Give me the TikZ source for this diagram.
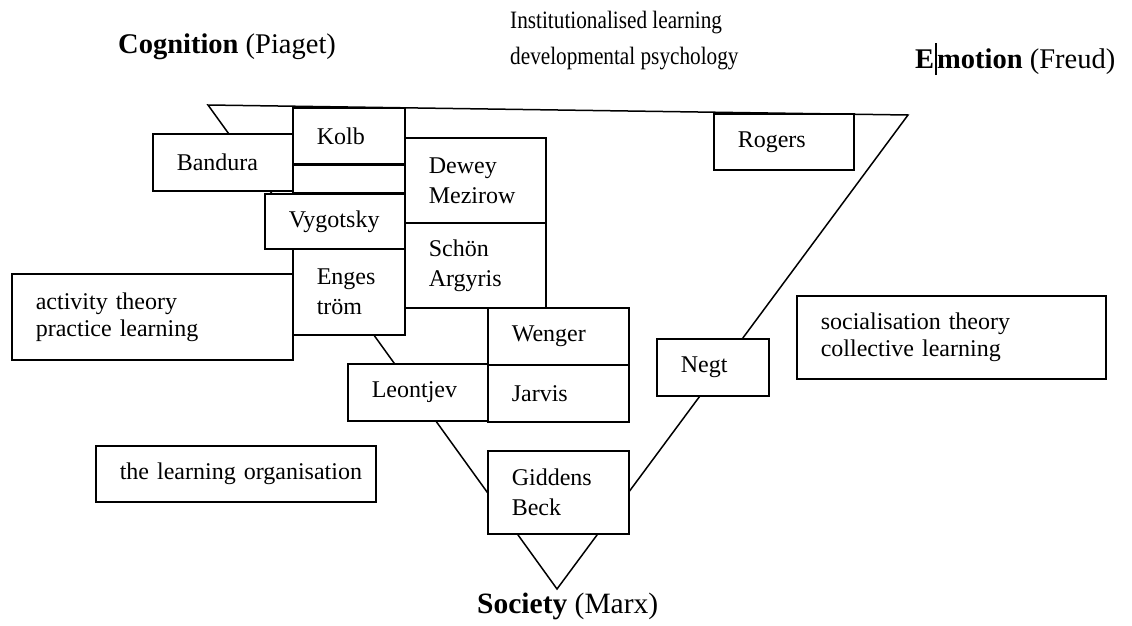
\documentclass[tikz,border=0pt]{standalone}
\usepackage{fontspec}
\setmainfont{Liberation Serif}
\newfontfamily\condfont[FakeStretch=0.85]{Liberation Serif}
\newcommand\myboxfont{\fontsize{24}{30}\selectfont\spaceskip=0.2em\relax}
\newcommand\myboxfonttight{\fontsize{24}{27}\selectfont\spaceskip=0.2em\relax}
\begin{document}
\begin{tikzpicture}[x=1pt,y=-1pt,
  box/.style={draw, fill=white, line width=1.6pt, anchor=north west, align=left,
    inner xsep=24pt, inner ysep=0pt, font=\myboxfont},
  edge/.style={line width=1.5pt},
  heading/.style={anchor=base west, inner sep=0pt, font=\fontsize{28.5}{32}\selectfont},
  sub/.style={anchor=base west, inner sep=0pt, font=\condfont\fontsize{25}{28}\selectfont}]
\fill[white] (0,0) rectangle (1132,626);
\useasboundingbox (0,0) rectangle (1132,626);
% triangle
\coordinate (tl) at (208,105);
\coordinate (tr) at (908,115);
\coordinate (ap) at (557,589);
\draw[edge] (tl) -- (tr) -- (ap) -- cycle;
% boxes
\node[box, text width=64pt, minimum height=56pt] (kolb) at (292,107) {\mbox{Kolb}};
\node[box, text width=64pt, minimum height=28pt] (gap) at (292,164) {};
\node[box, text width=92pt, minimum height=57pt] (bandura) at (152,133) {\mbox{Bandura}};
\node[box, text width=93pt, minimum height=85pt] (dewey) at (404,137) {\mbox{Dewey}\\\mbox{Mezirow}};
\node[box, text width=92pt, minimum height=55pt] (vygotsky) at (264,193) {\mbox{Vygotsky}};
\node[box, text width=93pt, minimum height=85pt] (schon) at (404,222) {\mbox{Schön}\\\mbox{Argyris}};
\node[box, text width=64pt, minimum height=86pt] (enges) at (292,248) {\mbox{Enges}\\\mbox{tröm}};
\node[box, text width=233pt, minimum height=86pt, font=\myboxfonttight] (activity) at (11,273) {\mbox{activity theory}\\\mbox{practice learning}};
\node[box, text width=93pt, minimum height=57pt] (wenger) at (487,307) {\mbox{Wenger}};
\node[box, text width=92pt, minimum height=57pt] (leontjev) at (347,363) {\mbox{Leontjev}};
\node[box, text width=93pt, minimum height=57pt] (jarvis) at (487,364) {\mbox{Jarvis}};
\node[box, text width=93pt, minimum height=83pt] (giddens) at (487,450) {\mbox{Giddens}\\\mbox{Beck}};
\node[box, text width=92pt, minimum height=56pt] (rogers) at (713,113) {\mbox{Rogers}};
\node[box, text width=64pt, minimum height=57pt] (negt) at (656,338) {\mbox{Negt}};
\node[box, text width=261pt, minimum height=83pt, font=\myboxfonttight] (social) at (796,295) {\mbox{socialisation theory}\\\mbox{collective learning}};
\node[box, text width=232pt, minimum height=56pt] (learnorg) at (95,445) {\mbox{the learning organisation}};
% headings
\node[heading] (cog) at (118,54) {\textbf{Cognition} (Piaget)};
\node[heading] (emo) at (915,69) {\textbf{E\kern1pt\rlap{\rule[-6pt]{1.3pt}{32pt}}\kern2pt motion} (Freud)};
\node[heading, font=\fontsize{29.5}{32}\selectfont] (soc) at (477,613) {\textbf{Society} (Marx)};
\node[sub] (inst) at (510,29) {Institutionalised learning};
\node[sub] (dev) at (510,65) {developmental psychology};
\end{tikzpicture}
\end{document}
